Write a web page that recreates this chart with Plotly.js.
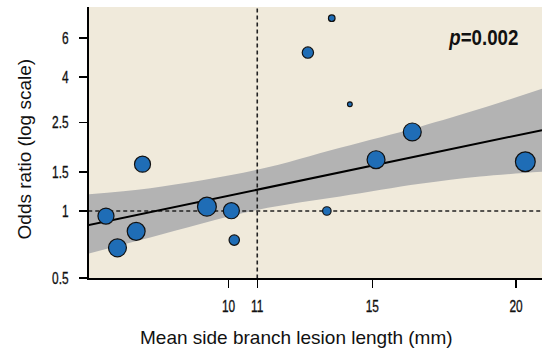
<!DOCTYPE html>
<html>
<head>
<meta charset="utf-8">
<script src="https://cdn.plot.ly/plotly-3.0.1.min.js"></script>
<style>html,body{margin:0;padding:0;background:#fff}#chart{width:542px;height:355px}</style>
</head>
<body>
<div id="chart"></div>
<script>
// Study-level data
var lesionLength = [5.74, 6.14, 6.79, 7.01, 9.25, 10.10, 10.20, 12.76, 13.42, 13.59, 14.22, 15.13, 16.39, 20.32];
var oddsRatio    = [0.949, 0.683, 0.810, 1.624, 1.046, 1.003, 0.740, 5.15, 1.00, 7.35, 3.02, 1.70, 2.265, 1.664];
var studyWeight  = [17, 19, 19, 17, 20, 17, 11, 12, 9, 7, 5, 19, 19, 21];

// Meta-regression fit and its confidence band
var fitX  = [5.13, 20.90];
var fitOR = [0.865, 2.308];
var bandX     = [5.13, 7.28, 10.99, 13.88, 16.66, 18.75, 20.90];
var bandUpper = [1.190, 1.266, 1.531, 1.924, 2.393, 2.877, 3.542];
var bandLower = [0.644, 0.761, 1.010, 1.161, 1.324, 1.428, 1.500];

// Reference lines
var refLength = 11;
var refOR = 1;

// Axis ticks
var xTicks = [10, 11, 15, 20];
var yTicks = [0.5, 1, 1.5, 2.5, 4, 6];
var yTickText = ['0.5', '1', '1.5', '2.5', '4', '6'];

var xTitle = 'Mean side branch lesion length (mm)';
var yTitle = 'Odds ratio (log scale)';
var pText = '<i>p</i>=0.002';

var xRange = [5.15, 20.9];
var yRange = [Math.log10(0.5), 0.9166];

var plain = '"Liberation Sans", Arial, sans-serif';

var traces = [
  {x: bandX, y: bandLower, mode: 'lines', line: {width: 0, shape: 'spline'}, hoverinfo: 'skip', showlegend: false},
  {x: bandX, y: bandUpper, mode: 'lines', line: {width: 0, shape: 'spline'}, fill: 'tonexty', fillcolor: '#b3b3b3', hoverinfo: 'skip', showlegend: false},
  {x: [xRange[0] - 1, xRange[1] + 1], y: [refOR, refOR], mode: 'lines', line: {color: '#222', width: 1.6, dash: '4px,3px'}, showlegend: false},
  {x: [refLength, refLength], y: [0.4, 12], mode: 'lines', line: {color: '#222', width: 1.6, dash: '4px,3px'}, showlegend: false},
  {x: fitX, y: fitOR, mode: 'lines', line: {color: '#000', width: 2}, showlegend: false},
  {x: lesionLength, y: oddsRatio, mode: 'markers', showlegend: false,
   marker: {size: studyWeight, sizemode: 'diameter', sizeref: 1.06, opacity: 1, color: '#1f6db6', line: {color: '#111', width: 1.2}}}
];

var layout = {
  width: 542, height: 355,
  margin: {l: 89, r: 0, t: 7, b: 77},
  paper_bgcolor: '#ffffff',
  plot_bgcolor: '#f0eadb',
  showlegend: false,
  xaxis: {
    range: xRange, tickvals: xTicks, ticktext: xTicks.map(String),
    ticks: 'outside', ticklen: 8, tickwidth: 1.5, tickcolor: '#000',
    showline: true, linewidth: 2, linecolor: '#000', showgrid: false, zeroline: false,
    tickfont: {family: plain, size: 17, color: '#111'},
    ticklabelstandoff: 4
  },
  yaxis: {
    type: 'log', range: yRange, tickvals: yTicks, ticktext: yTickText,
    ticks: 'outside', ticklen: 8, tickwidth: 1.5, tickcolor: '#000',
    showline: true, linewidth: 2, linecolor: '#000', showgrid: false, zeroline: false,
    tickfont: {family: plain, size: 17, color: '#111'},
    ticklabelstandoff: 7
  },
  annotations: [
    {xref: 'paper', yref: 'paper', x: 0.951, y: 0.887, xanchor: 'right', yanchor: 'middle',
     text: '<b>' + pText + '</b>', showarrow: false,
     font: {family: plain, size: 22, color: '#111'}},
    {xref: 'paper', yref: 'paper', x: 0.459, y: -0.221, xanchor: 'center', yanchor: 'middle',
     text: xTitle, showarrow: false, font: {family: plain, size: 19, color: '#111'}},
    {xref: 'paper', yref: 'paper', x: -0.1435, y: 0.478, xanchor: 'center', yanchor: 'middle', textangle: -90,
     text: yTitle, showarrow: false, font: {family: plain, size: 19, color: '#111'}}
  ]
};

function condense(el, s, mode) {
  var bb = el.getBBox();
  var ax = mode === 'right' ? bb.x + bb.width : bb.x + bb.width / 2;
  var t = el.getAttribute('transform') || '';
  el.setAttribute('transform', t + ' translate(' + ax + ',0) scale(' + s + ',1) translate(' + (-ax) + ',0)');
}

Plotly.newPlot('chart', traces, layout, {displayModeBar: false, staticPlot: true}).then(function (gd) {
  gd.querySelectorAll('g.xtick text, g.ytick text').forEach(function (el) {
    el.style.stroke = '#111';
    el.style.strokeWidth = '0.35px';
  });
  gd.querySelectorAll('g.xtick text').forEach(function (el) { condense(el, 0.7, 'center'); });
  gd.querySelectorAll('g.ytick text').forEach(function (el) { condense(el, 0.7, 'right'); });
  var ann = gd.querySelectorAll('.annotation-text');
  if (ann.length) condense(ann[0], 0.85, 'right');
});
</script>
</body>
</html>
